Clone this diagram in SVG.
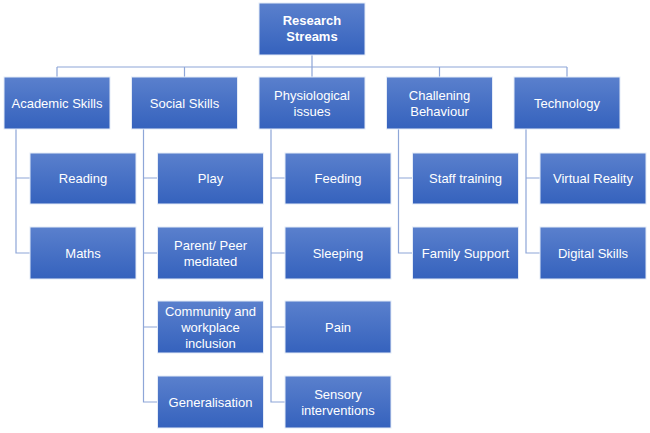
<svg xmlns="http://www.w3.org/2000/svg" width="650" height="433" viewBox="0 0 650 433">
<defs>
<linearGradient id="g" x1="0" y1="0" x2="0" y2="1">
<stop offset="0" stop-color="#5a80cd"/>
<stop offset="1" stop-color="#3562bd"/>
</linearGradient>
<style>
.b{fill:url(#g);stroke:#e4ebf7;stroke-width:1}
.t{font-family:"Liberation Sans",Arial,sans-serif;font-size:13px;fill:#ffffff;text-anchor:middle}
.h{font-weight:bold}
.c{fill:none;stroke:#8ea6d8;stroke-width:1.2}
</style>
</defs>
<rect width="650" height="433" fill="#ffffff"/>
<g id="connectors">
<path class="c" d="M312 55V67M57 67H567M57 67V77M184.5 67V77M312 67V77M439.5 67V77M567 67V77"/>
<path class="c" d="M16 129V253H30M16 178H30"/>
<path class="c" d="M143.5 129V402H157.5M143.5 178H157.5M143.5 253H157.5M143.5 327H157.5"/>
<path class="c" d="M271 129V402H285M271 178H285M271 253H285M271 327H285"/>
<path class="c" d="M398.5 129V253H412.5M398.5 178H412.5"/>
<path class="c" d="M526 129V253H540M526 178H540"/>
</g>
<g id="research-streams"><rect class="b" x="259" y="3" width="106" height="52"/><text class="t h" x="312" y="25">Research</text><text class="t h" x="312" y="41">Streams</text></g>
<g id="academic-skills"><rect class="b" x="4" y="77" width="106" height="52"/><text class="t" x="57" y="108">Academic Skills</text></g>
<g id="social-skills"><rect class="b" x="131.5" y="77" width="106" height="52"/><text class="t" x="184.5" y="108">Social Skills</text></g>
<g id="physiological-issues"><rect class="b" x="259" y="77" width="106" height="52"/><text class="t" x="312" y="100">Physiological</text><text class="t" x="312" y="116">issues</text></g>
<g id="challenging-behaviour"><rect class="b" x="386.5" y="77" width="106" height="52"/><text class="t" x="439.5" y="100">Challening</text><text class="t" x="439.5" y="116">Behaviour</text></g>
<g id="technology"><rect class="b" x="514" y="77" width="106" height="52"/><text class="t" x="567" y="108">Technology</text></g>
<g id="reading"><rect class="b" x="30" y="153" width="106" height="51"/><text class="t" x="83" y="183">Reading</text></g>
<g id="maths"><rect class="b" x="30" y="227" width="106" height="52"/><text class="t" x="83" y="258">Maths</text></g>
<g id="play"><rect class="b" x="157.5" y="153" width="106" height="51"/><text class="t" x="210.5" y="183">Play</text></g>
<g id="parent-peer"><rect class="b" x="157.5" y="227" width="106" height="52"/><text class="t" x="210.5" y="250">Parent/ Peer</text><text class="t" x="210.5" y="266">mediated</text></g>
<g id="community"><rect class="b" x="157.5" y="301" width="106" height="52"/><text class="t" x="210.5" y="316">Community and</text><text class="t" x="210.5" y="332">workplace</text><text class="t" x="210.5" y="348">inclusion</text></g>
<g id="generalisation"><rect class="b" x="157.5" y="376" width="106" height="52"/><text class="t" x="210.5" y="407">Generalisation</text></g>
<g id="feeding"><rect class="b" x="285" y="153" width="106" height="51"/><text class="t" x="338" y="183">Feeding</text></g>
<g id="sleeping"><rect class="b" x="285" y="227" width="106" height="52"/><text class="t" x="338" y="258">Sleeping</text></g>
<g id="pain"><rect class="b" x="285" y="301" width="106" height="52"/><text class="t" x="338" y="332">Pain</text></g>
<g id="sensory"><rect class="b" x="285" y="376" width="106" height="52"/><text class="t" x="338" y="399">Sensory</text><text class="t" x="338" y="415">interventions</text></g>
<g id="staff-training"><rect class="b" x="412.5" y="153" width="106" height="51"/><text class="t" x="465.5" y="183">Staff training</text></g>
<g id="family-support"><rect class="b" x="412.5" y="227" width="106" height="52"/><text class="t" x="465.5" y="258">Family Support</text></g>
<g id="virtual-reality"><rect class="b" x="540" y="153" width="106" height="51"/><text class="t" x="593" y="183">Virtual Reality</text></g>
<g id="digital-skills"><rect class="b" x="540" y="227" width="106" height="52"/><text class="t" x="593" y="258">Digital Skills</text></g>
</svg>
